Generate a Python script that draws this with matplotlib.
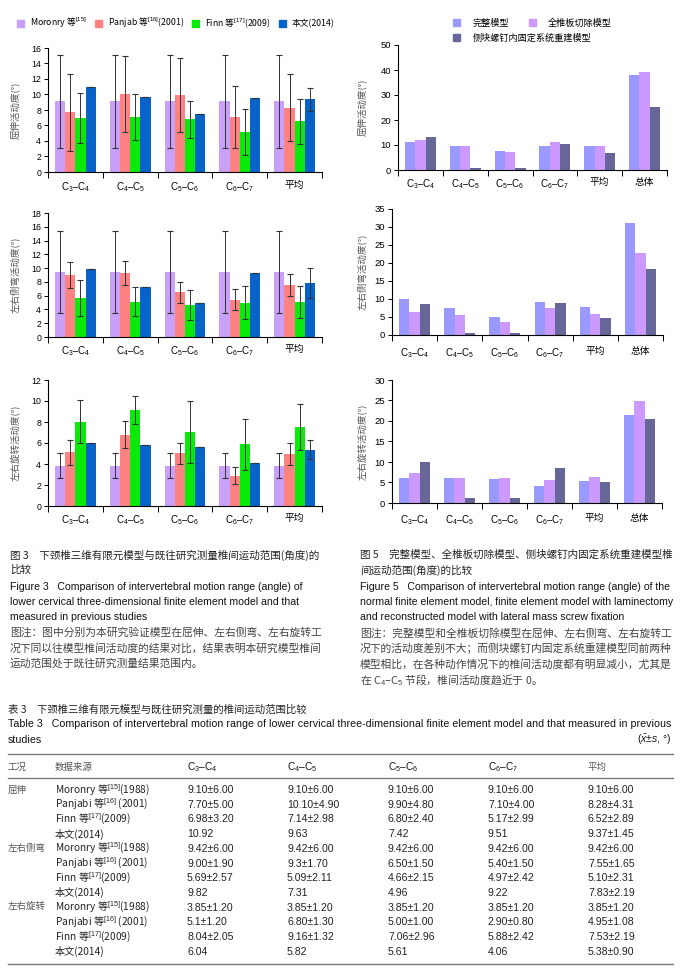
import matplotlib
matplotlib.use('Agg')
import matplotlib.pyplot as plt
import numpy as np
from matplotlib.patches import Patch

plt.rcParams['font.family'] = ['Liberation Sans', 'Noto Sans CJK SC']
plt.rcParams['mathtext.fontset'] = 'custom'
plt.rcParams['mathtext.rm'] = 'Liberation Sans'
plt.rcParams['mathtext.it'] = 'Liberation Sans:italic'
plt.rcParams['mathtext.bf'] = 'Liberation Sans:bold'
CJK = ['Noto Sans CJK SC', 'Liberation Sans']

# ---- data ----
segments = ['C$_3$–C$_4$', 'C$_4$–C$_5$', 'C$_5$–C$_6$', 'C$_6$–C$_7$', '平均']
segments5 = segments + ['总体']

sources = ['Moronry 等$^{\\mathrm{[15]}}$(1988)', 'Panjabi 等$^{\\mathrm{[16]}}$ (2001)',
           'Finn 等$^{\\mathrm{[17]}}$(2009)', '本文(2014)']
legend3 = ['Moronry 等$^{\\mathrm{[15]}}$', 'Panjab 等$^{\\mathrm{[16]}}$(2001)',
           'Finn 等$^{\\mathrm{[17]}}$(2009)', '本文(2014)']
motions = ['屈伸', '左右侧弯', '左右旋转']

# table 3 (mean±sd), also used for figure 3
flex_moronry = ['9.10±6.00', '9.10±6.00', '9.10±6.00', '9.10±6.00', '9.10±6.00']
flex_panjabi = ['7.70±5.00', '10.10±4.90', '9.90±4.80', '7.10±4.00', '8.28±4.31']
flex_finn = ['6.98±3.20', '7.14±2.98', '6.80±2.40', '5.17±2.99', '6.52±2.89']
flex_ours = ['10.92', '9.63', '7.42', '9.51', '9.37±1.45']
lat_moronry = ['9.42±6.00', '9.42±6.00', '9.42±6.00', '9.42±6.00', '9.42±6.00']
lat_panjabi = ['9.00±1.90', '9.3±1.70', '6.50±1.50', '5.40±1.50', '7.55±1.65']
lat_finn = ['5.69±2.57', '5.09±2.11', '4.66±2.15', '4.97±2.42', '5.10±2.31']
lat_ours = ['9.82', '7.31', '4.96', '9.22', '7.83±2.19']
rot_moronry = ['3.85±1.20', '3.85±1.20', '3.85±1.20', '3.85±1.20', '3.85±1.20']
rot_panjabi = ['5.1±1.20', '6.80±1.30', '5.00±1.00', '2.90±0.80', '4.95±1.08']
rot_finn = ['8.04±2.05', '9.16±1.32', '7.06±2.96', '5.88±2.42', '7.53±2.19']
rot_ours = ['6.04', '5.82', '5.61', '4.06', '5.38±0.90']

# figure 5
models5 = ['完整模型', '全椎板切除模型', '侧块螺钉内固定系统重建模型']
flex_normal = [11.0, 9.7, 7.7, 9.7, 9.4, 37.9]
flex_lam = [12.1, 9.4, 7.3, 11.0, 9.7, 39.1]
flex_screw = [13.3, 0.8, 0.8, 10.3, 6.6, 25.0]
lat_normal = [9.9, 7.4, 4.9, 9.1, 7.9, 31.0]
lat_lam = [6.3, 5.6, 3.7, 7.4, 5.8, 22.8]
lat_screw = [8.7, 0.5, 0.5, 8.9, 4.7, 18.4]
rot_normal = [6.2, 6.1, 5.8, 4.1, 5.3, 21.4]
rot_lam = [7.3, 6.2, 6.0, 5.5, 6.3, 24.9]
rot_screw = [9.9, 1.1, 1.1, 8.6, 5.2, 20.5]

colors3 = ['#C9A0F7', '#FF8282', '#0AEA0A', '#0863C8']
colors5 = ['#9999FF', '#CC99FF', '#666699']

W, H = 696, 972
fig = plt.figure(figsize=(W / 100, H / 100), dpi=100)


def px_rect(x0, x1, ytop, ybot):
    return [x0 / W, 1 - ybot / H, (x1 - x0) / W, (ybot - ytop) / H]


def parse(vals):
    m, s = [], []
    for v in vals:
        parts = v.split('±')
        m.append(float(parts[0]))
        s.append(float(parts[1]) if len(parts) > 1 else 0.0)
    return m, s


def style(ax, labels, ymax, step, ylabel, pad, labx):
    n = len(labels)
    ax.set_xlim(-0.5, n - 0.5)
    ax.set_ylim(0, ymax)
    ax.set_yticks(np.arange(0, ymax + 0.01, step))
    ax.set_xticks(np.arange(n))
    ax.set_xticklabels(labels)
    ax.set_xticks(np.arange(n + 1) - 0.5, minor=True)
    ax.tick_params(axis='x', which='major', length=0, pad=pad, labelsize=7)
    ax.tick_params(axis='x', which='minor', length=4, width=0.7)
    ax.tick_params(axis='y', length=3, width=0.7, labelsize=6.3, pad=2)
    for sp in ['top', 'right']:
        ax.spines[sp].set_visible(False)
    for sp in ['left', 'bottom']:
        ax.spines[sp].set_linewidth(0.8)
    ax.set_ylabel(ylabel, fontsize=6.8, color='#555555', fontfamily=CJK)
    ax.yaxis.set_label_coords(labx, 0.5)


def fig3_panel(rect, series, ymax, ylabel, pad):
    ax = fig.add_axes(rect)
    x = np.arange(len(segments))
    w = 0.186
    for i, vals in enumerate(series):
        m, s = parse(vals)
        pos = x + (i - 1.5) * w
        ax.bar(pos, m, w, color=colors3[i], zorder=2)
        ax.errorbar(pos, m, yerr=s, fmt='none', ecolor='#333333',
                    elinewidth=0.7, capsize=2, capthick=0.8, zorder=3)
    style(ax, segments, ymax, 2, ylabel, pad, -0.102)
    return ax


def fig5_panel(rect, series, ymax, step, ylabel, pad, labx):
    ax = fig.add_axes(rect)
    x = np.arange(len(segments5))
    w = 0.23
    for i, vals in enumerate(series):
        ax.bar(x + (i - 1) * w, vals, w, color=colors5[i], zorder=2)
    style(ax, segments5, ymax, step, ylabel, pad, labx)
    ax.tick_params(axis='y', labelsize=6.8)
    return ax


fig3_panel(px_rect(48, 322, 48, 172), [flex_moronry, flex_panjabi, flex_finn, flex_ours],
           16, '屈伸活动度(°)', 6)
fig3_panel(px_rect(48, 322, 213, 337), [lat_moronry, lat_panjabi, lat_finn, lat_ours],
           18, '左右侧弯活动度(°)', 5)
fig3_panel(px_rect(48, 322, 380, 506), [rot_moronry, rot_panjabi, rot_finn, rot_ours],
           12, '左右旋转活动度(°)', 5)

fig5_panel(px_rect(398, 667, 45, 170), [flex_normal, flex_lam, flex_screw],
           50, 10, '屈伸活动度(°)', 5, -0.115)
fig5_panel(px_rect(392, 663, 209, 335), [lat_normal, lat_lam, lat_screw],
           35, 5, '左右侧弯活动度(°)', 8, -0.092)
fig5_panel(px_rect(392, 662, 380, 503), [rot_normal, rot_lam, rot_screw],
           30, 5, '左右旋转活动度(°)', 7, -0.092)

# legends
h3 = [Patch(color=c) for c in colors3]
fig.legend(h3, legend3, loc='center left', bbox_to_anchor=(17 / W, 1 - 23 / H), ncol=4,
           frameon=False, prop={'family': CJK, 'size': 6.3}, handlelength=0.8,
           handleheight=0.8, handletextpad=0.7, columnspacing=0.9,
           borderpad=0, borderaxespad=0)
h5 = [Patch(color=c) for c in colors5]
fig.legend(h5[:2], models5[:2], loc='center left', bbox_to_anchor=(453 / W, 1 - 23 / H),
           ncol=2, frameon=False, prop={'family': CJK, 'size': 6.6}, handlelength=0.8,
           handleheight=0.8, handletextpad=1.3, columnspacing=2.2,
           borderpad=0, borderaxespad=0)
fig.legend(h5[2:], models5[2:], loc='center left', bbox_to_anchor=(453 / W, 1 - 38 / H),
           frameon=False, prop={'family': CJK, 'size': 6.6}, handlelength=0.8,
           handleheight=0.8, handletextpad=1.3, borderpad=0, borderaxespad=0)


def put(x, y, s, size=7.3, family=None, color='#111111', ha='left'):
    kw = {}
    if family is not None:
        kw['fontfamily'] = family
    fig.text(x / W, 1 - y / H, s, fontsize=size, color=color, ha=ha, va='center', **kw)


# captions
cap3 = [
    ('图 3　下颈椎三维有限元模型与既往研究测量椎间运动范围(角度)的', 'zh'),
    ('比较', 'zh'),
    ('Figure 3   Comparison of intervertebral motion range (angle) of', 'en'),
    ('lower cervical three-dimensional finite element model and that', 'en'),
    ('measured in previous studies', 'en'),
    ('图注：图中分别为本研究验证模型在屈伸、左右侧弯、左右旋转工', 'note'),
    ('况下同以往模型椎间活动度的结果对比，结果表明本研究模型椎间', 'note'),
    ('运动范围处于既往研究测量结果范围内。', 'note'),
]
cap5 = [
    ('图 5　完整模型、全椎板切除模型、侧块螺钉内固定系统重建模型椎', 'zh'),
    ('间运动范围(角度)的比较', 'zh'),
    ('Figure 5   Comparison of intervertebral motion range (angle) of the', 'en'),
    ('normal finite element model, finite element model with laminectomy', 'en'),
    ('and reconstructed model with lateral mass screw fixation', 'en'),
    ('图注：完整模型和全椎板切除模型在屈伸、左右侧弯、左右旋转工', 'note'),
    ('况下的活动度差别不大；而侧块螺钉内固定系统重建模型同前两种', 'note'),
    ('模型相比，在各种动作情况下的椎间活动度都有明显减小，尤其是', 'note'),
    ('在 C$_4$–C$_5$ 节段，椎间活动度趋近于 0。', 'note'),
]
cap_y = [555, 570, 587, 602, 617, 633, 648, 664, 680]
for xs, cap in [(10, cap3), (360, cap5)]:
    for (s, kind), y in zip(cap, cap_y):
        if kind == 'zh':
            put(xs, y, s, 7.6, CJK, '#222222')
        elif kind == 'en':
            put(xs, y, s, 7.55, None, '#111111')
        else:
            put(xs, y, s, 7.75, CJK, '#444444')

# table 3
put(8, 710, '表 3　下颈椎三维有限元模型与既往研究测量的椎间运动范围比较', 7.5, CJK, '#222222')
put(8, 724, 'Table 3   Comparison of intervertebral motion range of lower cervical '
    'three-dimensional finite element model and that measured in previous', 7.65)
put(8, 740, 'studies', 7.65)
put(671, 740, '($\\bar{x}$±$s$, °)', 7.5, ha='right')

col_x = [187, 287, 388, 488, 588]
for y in [754, 778, 964]:
    fig.add_artist(plt.Line2D([8 / W, 673 / W], [1 - y / H, 1 - y / H],
                              color='#777777', lw=1.0))
put(8, 767, '工况', 6.8, CJK, '#555555')
put(55, 767, '数据来源', 6.8, CJK, '#555555')
for x, lab in zip(col_x, segments):
    if lab == '平均':
        put(x, 767, lab, 6.8, CJK, '#555555')
    else:
        put(x, 767, lab, 7.3)

table_rows = [flex_moronry, flex_panjabi, flex_finn, flex_ours,
              lat_moronry, lat_panjabi, lat_finn, lat_ours,
              rot_moronry, rot_panjabi, rot_finn, rot_ours]
for r, vals in enumerate(table_rows):
    y = 790 + r * 14.7
    if r % 4 == 0:
        put(8, y, motions[r // 4], 6.8, CJK, '#555555')
    put(55, y, sources[r % 4], 7.3, CJK, '#222222')
    for x, v in zip(col_x, vals):
        put(x, y, v, 7.6, None, '#222222')

fig.savefig('out.png', dpi=100)
